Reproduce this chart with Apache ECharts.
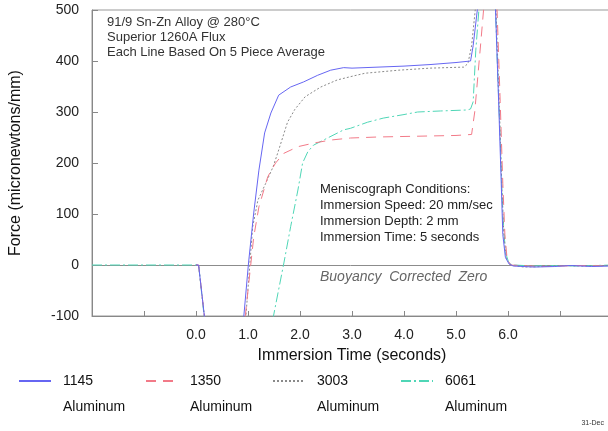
<!DOCTYPE html>
<html>
<head>
<meta charset="utf-8">
<script src="https://cdn.jsdelivr.net/npm/echarts@6/dist/echarts.min.js"></script>
<style>
html,body{margin:0;padding:0;background:#fff;}
#chart{width:608px;height:431px;}
</style>
</head>
<body>
<div id="chart"></div>
<script>
// ---- Data (time in seconds, force in micronewtons/mm) ----
var seriesNames = ['1145 Aluminum', '1350 Aluminum', '3003 Aluminum', '6061 Aluminum'];

var t1145 = [0, 0.05, 0.25, 0.6, 0.85, 0.92, 1.01, 1.11, 1.21, 1.32, 1.44, 1.59, 1.82, 2.07, 2.34, 2.59, 2.84, 3.0, 3.5, 4.0, 4.5, 5.0, 5.28, 5.33, 5.41, 5.5, 5.65, 5.76, 5.82, 5.87, 5.9, 5.95, 6.02, 6.1, 6.5, 6.9, 7.2, 7.6, 8];
var f1145 = [0, 0, -180, -200, -140, -100, 4, 102, 186, 259, 298, 333, 349, 359, 372, 382, 387, 386, 388, 390, 393, 397, 400, 430, 500, 590, 600, 500, 320, 160, 60, 15, 2, -2, -4, -3, -1, -3, -2];

var t1350 = [0, 0.05, 0.25, 0.6, 0.85, 0.94, 0.96, 1.11, 1.21, 1.38, 1.53, 1.69, 1.96, 2.26, 2.59, 2.97, 3.5, 4.0, 4.5, 5.0, 5.3, 5.36, 5.42, 5.48, 5.53, 5.6, 5.7, 5.79, 5.85, 5.9, 5.94, 5.98, 6.05, 6.4, 6.8, 7.3, 8];
var f1350 = [0, 0, -180, -200, -150, -110, -88, 55, 114, 173, 200, 219, 232, 239, 245, 249, 251, 252, 253, 254, 256, 300, 370, 440, 500, 580, 590, 500, 320, 160, 60, 15, 0, -2, -3, -1, -2];

var t3003 = [0, 0.05, 0.25, 0.6, 0.85, 0.96, 1.09, 1.19, 1.34, 1.48, 1.57, 1.67, 1.76, 1.9, 2.1, 2.4, 2.72, 3.0, 3.25, 3.9, 4.5, 5.15, 5.23, 5.3, 5.37, 5.5, 5.65, 5.77, 5.83, 5.88, 5.92, 5.97, 6.05, 6.3, 6.7, 7.0, 7.4, 8];
var f3003 = [0, 0, -180, -200, -150, -100, 75, 127, 160, 192, 219, 251, 280, 305, 330, 349, 363, 370, 376, 382, 386, 388, 395, 430, 500, 590, 600, 500, 320, 160, 60, 12, 0, -4, -3, -1, -2, -1];

var t6061 = [-2, 0, 0.05, 0.25, 0.8, 1.3, 1.49, 1.69, 1.82, 1.96, 2.05, 2.15, 2.26, 2.53, 2.84, 2.97, 3.3, 3.6, 4.0, 4.26, 4.7, 5.22, 5.28, 5.33, 5.38, 5.44, 5.55, 5.7, 5.76, 5.8, 5.85, 5.9, 5.95, 6.02, 6.1, 6.5, 6.9, 7.3, 8];
var f6061 = [0, 0, 0, -190, -220, -170, -100, 4, 75, 147, 200, 222, 235, 249, 265, 268, 280, 288, 295, 300, 302, 304, 306, 320, 420, 500, 590, 600, 500, 380, 250, 100, 25, 3, 0, -2, -1, -2, 0];

var yTicks = [-100, 0, 100, 200, 300, 400, 500];
var xTickLabels = ['0.0', '1.0', '2.0', '3.0', '4.0', '5.0', '6.0'];

var titleLines = ['91/9 Sn-Zn Alloy @ 280°C', 'Superior 1260A Flux', 'Each Line Based On 5 Piece Average'];
var conditionLines = ['Meniscograph Conditions:', 'Immersion Speed: 20 mm/sec', 'Immersion Depth: 2 mm', 'Immersion Time: 5 seconds'];

function pairs(t, f) { return t.map(function (v, i) { return [v, f[i]]; }); }

var FONT = '"Liberation Sans", Arial, sans-serif';
var colors = ['#6666f2', '#f27a88', '#8a8a8a', '#4fd6b6'];
var dashes = ['solid', [10, 7], [2, 2], [10, 3, 2, 3]];

var chart = echarts.init(document.getElementById('chart'), null, { renderer: 'canvas' });

var datas = [pairs(t1145, f1145), pairs(t1350, f1350), pairs(t3003, f3003), pairs(t6061, f6061)];

var series = [];
// draw order: teal, gray, red, blue (blue on top)
[3, 2, 1, 0].forEach(function (i) {
  var s = {
    name: seriesNames[i],
    type: 'line',
    data: datas[i],
    symbol: 'none',
    smooth: false,
    clip: true,
    animation: false,
    lineStyle: { color: colors[i], width: 1, type: dashes[i] },
    itemStyle: { color: colors[i] },
    z: 3
  };
  if (i === 3) {
    s.markLine = {
      silent: true,
      symbol: 'none',
      z: 1,
      animation: false,
      label: { show: false },
      lineStyle: { color: '#8c8c8c', width: 1, type: 'solid' },
      data: [{ yAxis: 0 }]
    };
  }
  series.push(s);
});

var legendLefts = [18, 145, 272, 400];
var legends = seriesNames.map(function (n, i) {
  return {
    data: [n],
    left: legendLefts[i],
    top: 348,
    padding: 0,
    itemWidth: 32,
    itemHeight: 14,
    selectedMode: false,
    itemStyle: { opacity: 0 },
    formatter: function (name) {
      var p = name.split(' ');
      return '{e| }\n{a|' + p[0] + '}\n{a|' + p[1] + '}';
    },
    textStyle: {
      padding: [0, 0, 0, 7],
      rich: {
        e: { fontSize: 14, lineHeight: 26, fontFamily: FONT },
        a: { fontSize: 14, lineHeight: 26, color: '#111', fontFamily: FONT }
      }
    }
  };
});

var graphics = [];
titleLines.forEach(function (txt, i) {
  graphics.push({
    type: 'text', left: 107, top: 16 + i * 15,
    style: { text: txt, fill: '#333', font: '13px ' + FONT }
  });
});
conditionLines.forEach(function (txt, i) {
  graphics.push({
    type: 'text', left: 320, top: 183 + i * 16,
    style: { text: txt, fill: '#222', font: '13px ' + FONT }
  });
});
graphics.push({
  type: 'text', left: 320, top: 270,
  style: { text: 'Buoyancy  Corrected  Zero', fill: '#666', font: 'italic 14px ' + FONT }
});
graphics.push({
  type: 'text', right: 4, top: 420,
  style: { text: '31-Dec', fill: '#333', font: '7px ' + FONT }
});

chart.setOption({
  animation: false,
  backgroundColor: '#fff',
  textStyle: { fontFamily: FONT },
  grid: { left: 92, top: 10, width: 520, height: 306, show: true, borderColor: '#999', borderWidth: 1, outerBoundsMode: 'none', containLabel: false },
  legend: legends,
  xAxis: {
    type: 'value',
    min: -2, max: 8, interval: 1,
    name: 'Immersion Time (seconds)',
    nameLocation: 'middle',
    nameGap: 32,
    nameTextStyle: { fontSize: 16, color: '#111', fontFamily: FONT },
    axisLine: { onZero: false, lineStyle: { color: '#888', width: 1 } },
    axisTick: { inside: true, length: 5, lineStyle: { color: '#888' } },
    axisLabel: {
      fontSize: 14, color: '#222', margin: 12, fontFamily: FONT,
      formatter: function (v) {
        var k = Math.round(v);
        return (k >= 0 && k < xTickLabels.length) ? xTickLabels[k] : '';
      }
    },
    splitLine: { show: false }
  },
  yAxis: {
    type: 'value',
    min: yTicks[0], max: yTicks[yTicks.length - 1], interval: 100,
    name: 'Force (micronewtons/mm)',
    nameLocation: 'middle',
    nameGap: 68,
    nameTextStyle: { fontSize: 16, color: '#111', fontFamily: FONT },
    axisLine: { show: true, onZero: false, lineStyle: { color: '#888', width: 1 } },
    axisTick: { show: true, inside: true, length: 6, lineStyle: { color: '#888' } },
    axisLabel: { fontSize: 14, color: '#222', margin: 13, fontFamily: FONT },
    splitLine: { show: false }
  },
  graphic: graphics,
  series: series
});
</script>
</body>
</html>
